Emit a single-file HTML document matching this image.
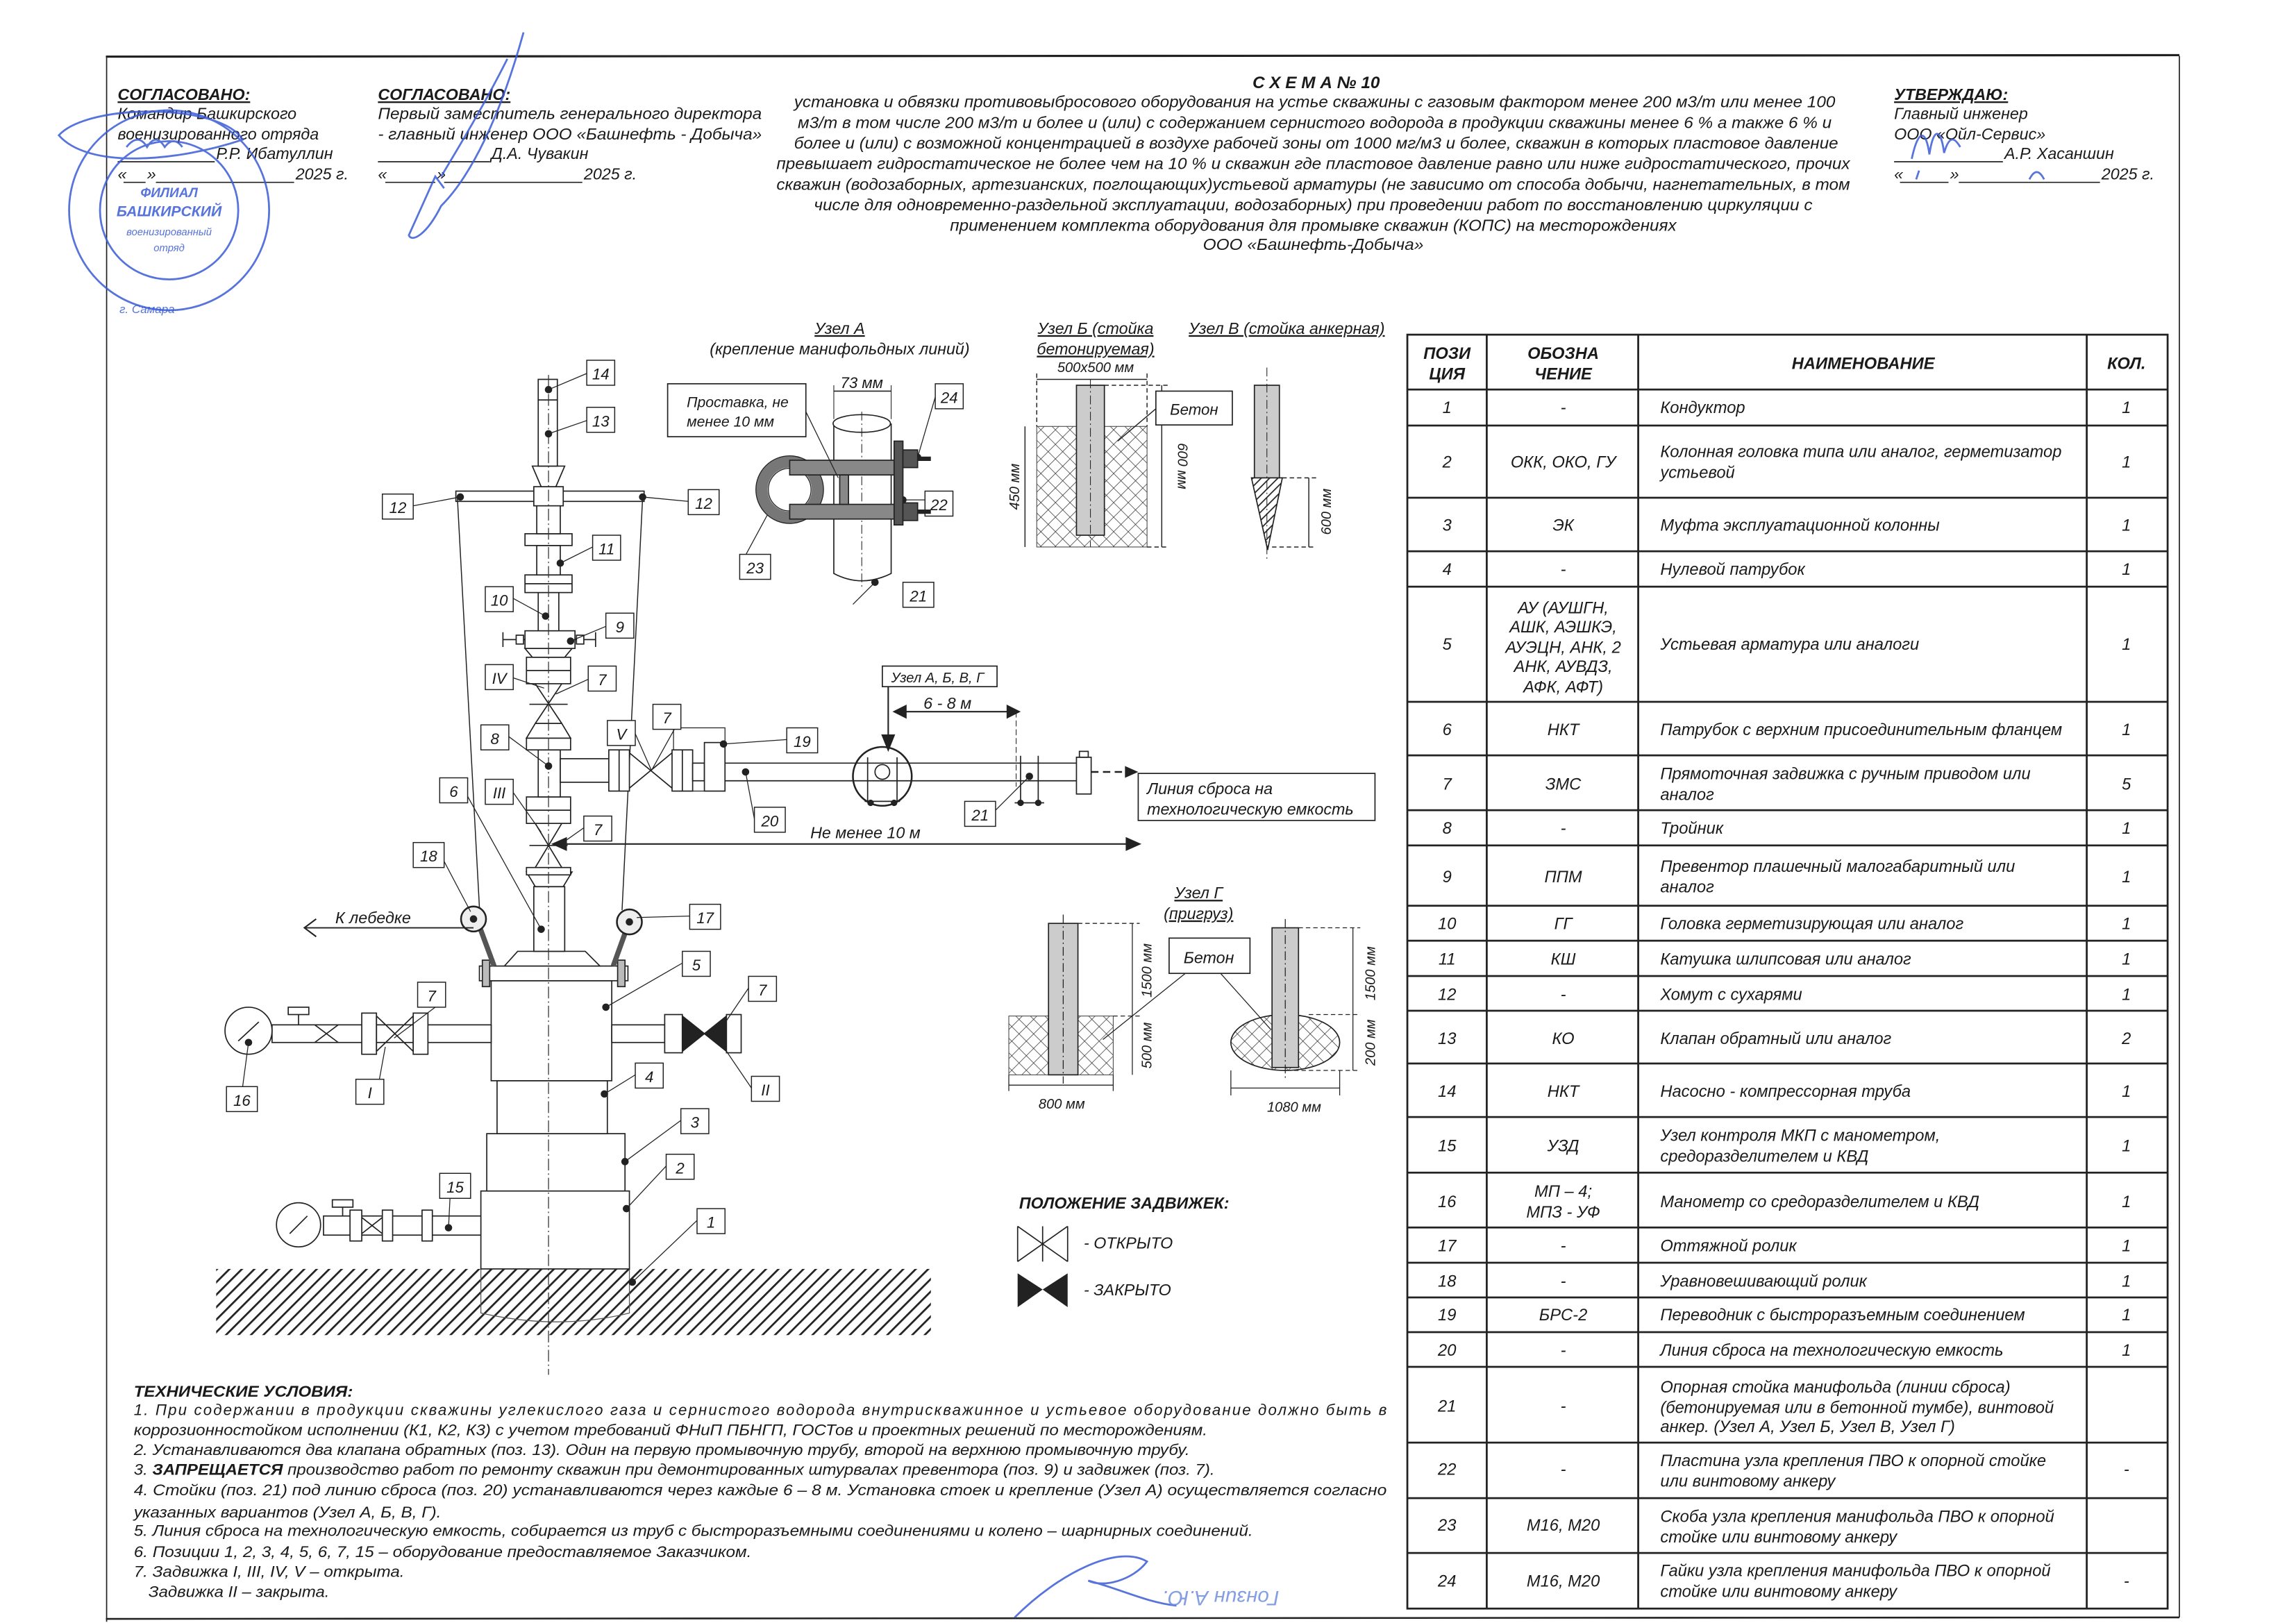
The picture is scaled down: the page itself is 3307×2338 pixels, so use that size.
<!DOCTYPE html>
<html><head><meta charset="utf-8"><style>
html,body{margin:0;padding:0;background:#fff}
svg{display:block}
text{font-family:"Liberation Sans","DejaVu Sans",sans-serif;font-style:italic;fill:#1a1a1a}
.b{font-weight:bold}
</style></head><body>
<svg width="3307" height="2338" viewBox="0 0 1561.3 1103.8" xmlns="http://www.w3.org/2000/svg">
<defs>
<pattern id="gh" width="6" height="6" patternUnits="userSpaceOnUse" patternTransform="rotate(45)"><rect width="6" height="6" fill="#fff"/><line x1="0" y1="0" x2="0" y2="6" stroke="#222" stroke-width="2.6"/></pattern>
<pattern id="xh" width="7" height="7" patternUnits="userSpaceOnUse" patternTransform="rotate(45)"><rect width="7" height="7" fill="#fff"/><line x1="0" y1="0" x2="0" y2="7" stroke="#333" stroke-width="0.7"/><line x1="0" y1="0" x2="7" y2="0" stroke="#333" stroke-width="0.7"/></pattern>
<pattern id="sh" width="4" height="4" patternUnits="userSpaceOnUse" patternTransform="rotate(45)"><rect width="4" height="4" fill="#fff"/><line x1="0" y1="0" x2="0" y2="4" stroke="#222" stroke-width="1.6"/></pattern>
</defs>
<rect width="1561.3" height="1103.8" fill="#fff"/>
<!-- frame -->
<g stroke="#222" fill="none">
<line x1="72" y1="38.5" x2="1482" y2="37.5" stroke-width="1.5"/>
<line x1="72.5" y1="38" x2="72.5" y2="1103" stroke-width="0.8"/>
<line x1="1482" y1="38" x2="1482" y2="1100" stroke-width="0.8"/>
<line x1="72" y1="1101" x2="1482" y2="1100" stroke-width="1.2"/>
</g>

<!-- header left -->
<g font-size="11">
<text x="80" y="68" class="b" text-decoration="underline">СОГЛАСОВАНО:</text>
<text x="80" y="81">Командир  Башкирского</text>
<text x="80" y="95">военизированного отряда</text>
<text x="147" y="108">Р.Р. Ибатуллин</text>
<text x="80" y="122">«</text><text x="100" y="122">»</text><text x="201" y="122">2025 г.</text>
<text x="257" y="68" class="b" text-decoration="underline">СОГЛАСОВАНО:</text>
<text x="257" y="81" textLength="261" lengthAdjust="spacingAndGlyphs">Первый заместитель генерального директора</text>
<text x="257" y="95" textLength="261" lengthAdjust="spacingAndGlyphs">- главный инженер ООО «Башнефть - Добыча»</text>
<text x="334" y="108">Д.А. Чувакин</text>
<text x="257" y="122">«</text><text x="297" y="122">»</text><text x="397" y="122">2025 г.</text>
<text x="1288" y="68" class="b" text-decoration="underline">УТВЕРЖДАЮ:</text>
<text x="1288" y="81">Главный инженер</text>
<text x="1288" y="95">ООО «Ойл-Сервис»</text>
<text x="1363" y="108">А.Р. Хасаншин</text>
<text x="1288" y="122">«</text><text x="1326" y="122">»</text><text x="1429" y="122">2025 г.</text>
</g>
<g stroke="#222" stroke-width="0.8">
<line x1="80" y1="110" x2="146" y2="110"/><line x1="84" y1="124" x2="99" y2="124"/><line x1="106" y1="124" x2="200" y2="124"/>
<line x1="257" y1="110" x2="333" y2="110"/><line x1="262" y1="124" x2="296" y2="124"/><line x1="302" y1="124" x2="396" y2="124"/>
<line x1="1288" y1="110" x2="1362" y2="110"/><line x1="1292" y1="124" x2="1325" y2="124"/><line x1="1332" y1="124" x2="1428" y2="124"/>
</g>
<!-- title -->
<g font-size="11" text-anchor="middle">
<text x="895" y="60" class="b" font-size="11.5">С Х Е М А  № 10</text>
<text x="894" y="73" textLength="708" lengthAdjust="spacingAndGlyphs">установка и обвязки противовыбросового оборудования на устье скважины с газовым фактором менее 200 м3/т или менее 100</text>
<text x="894" y="87" textLength="703" lengthAdjust="spacingAndGlyphs">м3/т в том числе 200 м3/т и более и (или) с содержанием сернистого водорода в продукции скважины менее 6 % а также 6 % и</text>
<text x="895" y="101" textLength="710" lengthAdjust="spacingAndGlyphs">более и (или) с возможной концентрацией в воздухе рабочей зоны от 1000 мг/м3 и более, скважин в которых пластовое давление</text>
<text x="893" y="115" textLength="730" lengthAdjust="spacingAndGlyphs">превышает гидростатическое не более чем на 10 % и скважин где пластовое давление равно или ниже гидростатического, прочих</text>
<text x="893" y="129" textLength="730" lengthAdjust="spacingAndGlyphs">скважин (водозаборных, артезианских, поглощающих)устьевой арматуры (не зависимо от способа добычи, нагнетательных, в том</text>
<text x="893" y="143" textLength="679" lengthAdjust="spacingAndGlyphs">числе для одновременно-раздельной эксплуатации, водозаборных) при проведении  работ по восстановлению циркуляции с</text>
<text x="893" y="157" textLength="494" lengthAdjust="spacingAndGlyphs">применением комплекта оборудования для промывке скважин (КОПС) на месторождениях</text>
<text x="893" y="170" textLength="150" lengthAdjust="spacingAndGlyphs">ООО «Башнефть-Добыча»</text>
</g>

<!-- stamp & signatures -->
<g fill="none" stroke="#3a5bd6" stroke-width="1.3" opacity="0.85">
<circle cx="115" cy="143" r="68"/><circle cx="115" cy="143" r="47"/>
<path d="M40 92 C 60 70, 150 70, 165 95 C 120 110, 60 115, 40 92 Z"/>
<path d="M86 100 q 8 -10 14 0 q 6 -10 12 0 q 6 -8 12 0"/>
<path d="M356 22 C 340 80, 320 120, 300 140 C 290 160, 280 165, 278 160 L 296 120 L 302 128"/>
<path d="M300 120 C 312 100, 330 70, 345 40"/>
<path d="M1300 108 C 1305 85, 1310 90, 1312 105 C 1315 85, 1320 88, 1322 104 C 1326 90, 1330 95, 1333 100"/>
<path d="M1303 122 l 2 -6 M1380 122 q 5 -10 10 0"/>
<path d="M690 1100 C 720 1070, 760 1050, 780 1062 C 770 1075, 750 1080, 740 1075 C 760 1080, 780 1090, 800 1092"/>
</g>
<g fill="#3a5bd6" opacity="0.85" font-size="9" text-anchor="middle">
<text x="115" y="134" style="fill:#3a5bd6" class="b">ФИЛИАЛ</text>
<text x="115" y="147" style="fill:#3a5bd6" class="b" font-size="10">БАШКИРСКИЙ</text>
<text x="115" y="160" style="fill:#3a5bd6" font-size="7">военизированный</text>
<text x="115" y="171" style="fill:#3a5bd6" font-size="7">отряд</text>
<text x="100" y="213" style="fill:#3a5bd6" font-size="8">г. Самара</text>
<text x="830" y="1092" style="fill:#6f8ee0" font-size="14" transform="rotate(180 830 1087)">Гонзин А.Ю.</text>
</g>

<!-- TABLE -->
<g stroke="#222" stroke-width="1.3" fill="none">
<rect x="957" y="227.6" width="517" height="866.4"/>
<line x1="1011" y1="227.6" x2="1011" y2="1094"/>
<line x1="1114" y1="227.6" x2="1114" y2="1094"/>
<line x1="1419" y1="227.6" x2="1419" y2="1094"/>
<path d="M957 264.9H1474M957 289.4H1474M957 338.5H1474M957 374.9H1474M957 399H1474M957 477.3H1474M957 513.7H1474M957 551H1474M957 575H1474M957 616H1474M957 639.8H1474M957 663.8H1474M957 687.4H1474M957 723.3H1474M957 759.7H1474M957 797.5H1474M957 834.8H1474M957 858.8H1474M957 882.4H1474M957 906H1474M957 929.6H1474M957 981.1H1474M957 1018.9H1474M957 1056.2H1474"/>
</g>
<g font-size="11.2">
<g class="b" text-anchor="middle">
<text x="984" y="244">ПОЗИ</text><text x="984" y="258">ЦИЯ</text>
<text x="1063" y="244">ОБОЗНА</text><text x="1063" y="258">ЧЕНИЕ</text>
<text x="1267" y="251">НАИМЕНОВАНИЕ</text>
<text x="1446" y="251">КОЛ.</text>
</g>
<g text-anchor="middle">
<text x="984" y="281">1</text><text x="1063" y="281">-</text><text x="1446" y="281">1</text>
<text x="984" y="318">2</text><text x="1063" y="318">ОКК, ОКО, ГУ</text><text x="1446" y="318">1</text>
<text x="984" y="361">3</text><text x="1063" y="361">ЭК</text><text x="1446" y="361">1</text>
<text x="984" y="391">4</text><text x="1063" y="391">-</text><text x="1446" y="391">1</text>
<text x="984" y="442">5</text><text x="1063" y="417">АУ (АУШГН,</text><text x="1063" y="430">АШК, АЭШКЭ,</text><text x="1063" y="444">АУЭЦН, АНК, 2</text><text x="1063" y="457">АНК, АУВДЗ,</text><text x="1063" y="471">АФК, АФТ)</text><text x="1446" y="442">1</text>
<text x="984" y="500">6</text><text x="1063" y="500">НКТ</text><text x="1446" y="500">1</text>
<text x="984" y="537">7</text><text x="1063" y="537">ЗМС</text><text x="1446" y="537">5</text>
<text x="984" y="567">8</text><text x="1063" y="567">-</text><text x="1446" y="567">1</text>
<text x="984" y="600">9</text><text x="1063" y="600">ППМ</text><text x="1446" y="600">1</text>
<text x="984" y="632">10</text><text x="1063" y="632">ГГ</text><text x="1446" y="632">1</text>
<text x="984" y="656">11</text><text x="1063" y="656">КШ</text><text x="1446" y="656">1</text>
<text x="984" y="680">12</text><text x="1063" y="680">-</text><text x="1446" y="680">1</text>
<text x="984" y="710">13</text><text x="1063" y="710">КО</text><text x="1446" y="710">2</text>
<text x="984" y="746">14</text><text x="1063" y="746">НКТ</text><text x="1446" y="746">1</text>
<text x="984" y="783">15</text><text x="1063" y="783">УЗД</text><text x="1446" y="783">1</text>
<text x="984" y="821">16</text><text x="1063" y="814">МП – 4;</text><text x="1063" y="828">МПЗ - УФ</text><text x="1446" y="821">1</text>
<text x="984" y="851">17</text><text x="1063" y="851">-</text><text x="1446" y="851">1</text>
<text x="984" y="875">18</text><text x="1063" y="875">-</text><text x="1446" y="875">1</text>
<text x="984" y="898">19</text><text x="1063" y="898">БРС-2</text><text x="1446" y="898">1</text>
<text x="984" y="922">20</text><text x="1063" y="922">-</text><text x="1446" y="922">1</text>
<text x="984" y="960">21</text><text x="1063" y="960">-</text>
<text x="984" y="1003">22</text><text x="1063" y="1003">-</text><text x="1446" y="1003">-</text>
<text x="984" y="1041">23</text><text x="1063" y="1041">М16, М20</text>
<text x="984" y="1079">24</text><text x="1063" y="1079">М16, М20</text><text x="1446" y="1079">-</text>
</g>
<g>
<text x="1129" y="281">Кондуктор</text>
<text x="1129" y="311">Колонная головка типа или аналог, герметизатор</text><text x="1129" y="325">устьевой</text>
<text x="1129" y="361">Муфта эксплуатационной колонны</text>
<text x="1129" y="391">Нулевой патрубок</text>
<text x="1129" y="442">Устьевая арматура или аналоги</text>
<text x="1129" y="500">Патрубок с верхним присоединительным фланцем</text>
<text x="1129" y="530">Прямоточная задвижка с ручным приводом или</text><text x="1129" y="544">аналог</text>
<text x="1129" y="567">Тройник</text>
<text x="1129" y="593">Превентор плашечный малогабаритный или</text><text x="1129" y="607">аналог</text>
<text x="1129" y="632">Головка герметизирующая или аналог</text>
<text x="1129" y="656">Катушка шлипсовая или аналог</text>
<text x="1129" y="680">Хомут с сухарями</text>
<text x="1129" y="710">Клапан обратный или аналог</text>
<text x="1129" y="746">Насосно - компрессорная труба</text>
<text x="1129" y="776">Узел контроля МКП с манометром,</text><text x="1129" y="790">средоразделителем и КВД</text>
<text x="1129" y="821">Манометр со средоразделителем и КВД</text>
<text x="1129" y="851">Оттяжной ролик</text>
<text x="1129" y="875">Уравновешивающий ролик</text>
<text x="1129" y="898">Переводник с быстроразъемным соединением</text>
<text x="1129" y="922">Линия сброса на технологическую емкость</text>
<text x="1129" y="947">Опорная стойка манифольда (линии сброса)</text><text x="1129" y="961">(бетонируемая или в бетонной тумбе), винтовой</text><text x="1129" y="974">анкер. (Узел А, Узел Б, Узел В, Узел Г)</text>
<text x="1129" y="997">Пластина узла крепления ПВО к опорной стойке</text><text x="1129" y="1011">или винтовому анкеру</text>
<text x="1129" y="1035">Скоба узла крепления манифольда ПВО к опорной</text><text x="1129" y="1049">стойке или винтовому анкеру</text>
<text x="1129" y="1072">Гайки узла крепления манифольда ПВО к опорной</text><text x="1129" y="1086">стойке или винтовому анкеру</text>
</g>
</g>

<!-- TECH CONDITIONS -->
<g font-size="10.5">
<text x="91" y="950" class="b" textLength="149" lengthAdjust="spacingAndGlyphs">ТЕХНИЧЕСКИЕ УСЛОВИЯ:</text>
<text x="91" y="962.5" textLength="852" lengthAdjust="spacing">1. При  содержании  в  продукции  скважины  углекислого  газа  и  сернистого  водорода  внутрискважинное  и  устьевое  оборудование  должно  быть  в</text>
<text x="91" y="976" textLength="730" lengthAdjust="spacingAndGlyphs">коррозионностойком исполнении (К1, К2, К3)  с учетом требований ФНиП ПБНГП, ГОСТов и проектных решений по месторождениям.</text>
<text x="91" y="989.5" textLength="718" lengthAdjust="spacingAndGlyphs">2. Устанавливаются два клапана обратных (поз. 13). Один на первую промывочную трубу, второй на верхнюю промывочную трубу.</text>
<text x="91" y="1003" textLength="735" lengthAdjust="spacingAndGlyphs">3. <tspan class="b">ЗАПРЕЩАЕТСЯ</tspan> производство работ по ремонту скважин при демонтированных штурвалах превентора (поз. 9) и задвижек (поз. 7).</text>
<text x="91" y="1017" textLength="852" lengthAdjust="spacingAndGlyphs">4. Стойки (поз. 21) под линию сброса (поз. 20) устанавливаются через каждые 6 – 8 м. Установка стоек и крепление (Узел А) осуществляется согласно</text>
<text x="91" y="1032" textLength="209" lengthAdjust="spacingAndGlyphs">указанных вариантов (Узел А, Б, В, Г).</text>
<text x="91" y="1044.6" textLength="761" lengthAdjust="spacingAndGlyphs">5. Линия сброса на технологическую емкость, собирается из труб с быстроразъемными соединениями и  колено – шарнирных соединений.</text>
<text x="91" y="1059" textLength="420" lengthAdjust="spacingAndGlyphs">6. Позиции 1, 2, 3, 4, 5, 6, 7, 15 – оборудование предоставляемое Заказчиком.</text>
<text x="91" y="1072.5" textLength="184" lengthAdjust="spacingAndGlyphs">7. Задвижка I, III, IV, V – открыта.</text>
<text x="101" y="1086" textLength="123" lengthAdjust="spacingAndGlyphs">Задвижка II – закрыта.</text>
</g>

<!-- GROUND -->
<rect x="147" y="863" width="486" height="45" fill="url(#gh)"/>
<path d="M327 863 V893 Q380 905 428 893 V863" fill="none" stroke="#555" stroke-width="0.6"/>

<!-- WELLHEAD -->
<g stroke="#222" stroke-width="0.8" fill="#fff">
<rect x="327" y="810" width="101" height="53"/>
<rect x="331" y="771" width="94" height="39"/>
<rect x="338" y="735" width="75" height="36"/>
<rect x="334" y="667" width="82" height="68"/>
<rect x="326" y="657" width="101" height="10"/>
<rect x="328" y="653" width="5" height="18" fill="#bbb"/><rect x="420" y="653" width="5" height="18" fill="#bbb"/>
<polygon points="343,657 408,657 398,647 352,647"/>
<rect x="363" y="603" width="21" height="44"/>
<polygon points="364,603 383,603 389,593 358,593"/>
<rect x="358" y="590" width="30" height="5"/>
<path d="M364 560 L382 590 M382 560 L364 590 M360 575 H386" fill="none"/>
<rect x="358" y="542" width="30" height="18"/><line x1="358" y1="551" x2="388" y2="551"/>
<rect x="366" y="510" width="15" height="32"/>
<rect x="381" y="516" width="34" height="16"/>
<rect x="358" y="502" width="30" height="8"/>
<polygon points="364,492 382,492 388,502 358,502"/>
<path d="M364 465 L382 492 M382 465 L364 492 M360 479 H386" fill="none"/>
<rect x="358" y="447" width="30" height="18"/><line x1="358" y1="456" x2="388" y2="456"/>
<polygon points="357,441 389,441 384,447 362,447"/>
<rect x="357" y="429" width="34" height="12"/>
<path d="M342 435 H357 M342 430 V440 M391 435 H405 M405 430 V440" fill="none"/>
<rect x="351" y="432" width="5" height="6"/><rect x="392" y="432" width="5" height="6"/>
<rect x="366" y="403" width="14" height="26"/>
<rect x="357" y="391" width="32" height="12"/><line x1="357" y1="397" x2="389" y2="397"/>
<rect x="365" y="371" width="16" height="20"/>
<rect x="357" y="363" width="32" height="8"/>
<rect x="365" y="341" width="16" height="22"/>
<rect x="310" y="334" width="128" height="7"/>
<rect x="363" y="331" width="20" height="13"/>
<polygon points="362,317 384,317 378,331 368,331"/>
<rect x="366" y="272" width="13" height="45"/>
<rect x="366" y="258" width="13" height="14"/>
</g>
<line x1="373" y1="255" x2="373" y2="935" stroke="#333" stroke-width="0.6" stroke-dasharray="8 2 1 2"/>
<!-- cables and rollers -->
<g stroke="#222" fill="none" stroke-width="0.7">
<line x1="311" y1="338" x2="326" y2="617"/><line x1="437" y1="338" x2="423" y2="619"/>
</g>
<g stroke="#222">
<line x1="326" y1="630" x2="336" y2="657" stroke-width="3.5" stroke="#555"/>
<line x1="426" y1="632" x2="417" y2="657" stroke-width="3.5" stroke="#555"/>
<circle cx="322" cy="625" r="8.5" fill="#eee" stroke-width="1.2"/>
<circle cx="428" cy="627" r="8.5" fill="#eee" stroke-width="1.2"/>
<line x1="322" y1="631" x2="208" y2="631" stroke-width="0.9"/>
<path d="M215 625 L207 631 L215 637" fill="none" stroke-width="1"/>
</g>
<text x="228" y="628" font-size="11">К лебедке</text>

<!-- left side valves -->
<g stroke="#222" stroke-width="0.8" fill="#fff">
<rect x="185" y="697" width="149" height="12"/>
<rect x="246" y="689" width="10" height="28"/>
<path d="M256 691 L281 715 M281 691 L256 715 M256 691 V715 M281 691 V715" fill="none"/>
<rect x="281" y="689" width="10" height="28"/>
<path d="M214 697 L230 709 M230 697 L214 709" fill="none"/>
<line x1="203" y1="697" x2="203" y2="690"/><rect x="196" y="685" width="14" height="5"/>
<circle cx="169" cy="701" r="16"/>
<line x1="162" y1="708" x2="176" y2="695"/>
<!-- right side -->
<rect x="416" y="697" width="36" height="12"/>
<rect x="452" y="690" width="12" height="26"/>
<polygon points="464,691 479,703 464,715" fill="#222"/><polygon points="494,691 479,703 494,715" fill="#222"/>
<rect x="494" y="690" width="10" height="26"/>
<!-- bottom gauge -->
<rect x="220" y="827" width="107" height="13"/>
<rect x="238" y="823" width="8" height="21"/>
<path d="M246 828 L260 839 M260 828 L246 839" fill="none"/>
<rect x="260" y="823" width="7" height="21"/>
<rect x="287" y="823" width="7" height="21"/>
<line x1="233" y1="827" x2="233" y2="821"/><rect x="226" y="816" width="14" height="5"/>
<circle cx="203" cy="833" r="15"/>
<line x1="197" y1="839" x2="209" y2="827"/>
</g>

<!-- branch line -->
<g stroke="#222" stroke-width="0.8" fill="#fff">
<rect x="414" y="510" width="14" height="28"/><line x1="421" y1="510" x2="421" y2="538"/>
<path d="M428 512 L457 536 M457 512 L428 536" fill="none"/>
<rect x="458" y="495" width="35" height="43" fill="none" stroke-width="0.6"/>
<rect x="457" y="510" width="14" height="28"/><line x1="464" y1="510" x2="464" y2="538"/>
<rect x="471" y="519" width="8" height="12"/>
<rect x="479" y="505" width="14" height="33"/>
<path d="M493 519 H738 M493 531 H738" fill="none"/>
<circle cx="600" cy="528" r="20" fill="none" stroke-width="1.2"/>
<path d="M590 515 V545 M610 515 V545 M588 545 H612" fill="none"/>
<circle cx="600" cy="525" r="5" fill="none"/>
<circle cx="592" cy="546" r="1.8" fill="#222"/><circle cx="608" cy="546" r="1.8" fill="#222"/>
<path d="M694 514 V546 M706 514 V546 M690 546 H710" fill="none"/>
<circle cx="694" cy="546" r="1.8" fill="#222"/><circle cx="706" cy="546" r="1.8" fill="#222"/>
<rect x="732" y="515" width="10" height="25"/><rect x="734" y="511" width="6" height="4"/>
</g>
<line x1="742" y1="525" x2="765" y2="525" stroke="#222" stroke-width="1.2" stroke-dasharray="5 3"/>
<polygon points="765,521 774,525 765,529" fill="#222"/>
<rect x="774" y="526" width="161" height="32" fill="#fff" stroke="#222" stroke-width="0.8"/>
<text x="780" y="540" font-size="11">Линия сброса на</text>
<text x="780" y="554" font-size="11">технологическую емкость</text>
<!-- dims -->
<g stroke="#222" stroke-width="1">
<line x1="376" y1="574" x2="772" y2="574"/>
<polygon points="376,574 385,570 385,578" fill="#222"/><polygon points="775,574 766,570 766,578" fill="#222"/>
<line x1="608" y1="484" x2="693" y2="484"/>
<polygon points="608,484 616,480 616,488" fill="#222"/><polygon points="693,484 685,480 685,488" fill="#222"/>
<line x1="691" y1="484" x2="691" y2="535" stroke-dasharray="4 2" stroke-width="0.5"/>
<line x1="604" y1="467" x2="604" y2="508"/>
<polygon points="600,500 604,510 608,500" fill="#222"/>
</g>
<text x="551" y="570" font-size="11">Не менее 10 м</text>
<text x="628" y="482" font-size="11">6 - 8 м</text>
<rect x="600" y="453" width="78" height="14" fill="#fff" stroke="#222" stroke-width="0.8"/>
<text x="606" y="464" font-size="9.5">Узел А, Б, В, Г</text>

<!-- label boxes -->
<g stroke="#222" stroke-width="0.6" fill="none">
<path d="M399 254 L373 265 M399 286 L373 295 M281 344 L313 338 M468 341 L437 338 M403 372 L381 383 M349 407 L371 419 M412 426 L388 436 M349 461 L370 468 M400 462 L378 472 M346 501 L373 521 M432 499 L443 524 M463 488 L443 524 M535 503 L492 506 M316 538 L368 632 M349 539 L368 566 M397 563 L380 575 M513 557 L507 525 M675 553 L700 528 M300 582 L320 620 M469 623 L433 624 M464 655 L412 685 M296 685 L268 706 M509 672 L486 706 M258 734 L262 712 M511 740 L492 712 M165 739 L169 709 M432 731 L411 744 M463 762 L425 790 M306 815 L305 835 M453 793 L426 822 M474 830 L430 872 M580 411 L595 396 M503 385 L523 348 M636 270 L624 311 M629 340 L614 340"/>
</g>
<g fill="#222">
<circle cx="373" cy="265" r="2.5"/><circle cx="373" cy="295" r="2.5"/><circle cx="313" cy="338" r="2.5"/><circle cx="437" cy="338" r="2.5"/><circle cx="381" cy="383" r="2.5"/><circle cx="371" cy="419" r="2.5"/><circle cx="388" cy="436" r="2.5"/><circle cx="373" cy="521" r="2.5"/><circle cx="492" cy="506" r="2.5"/><circle cx="368" cy="632" r="2.5"/><circle cx="507" cy="525" r="2.5"/><circle cx="700" cy="528" r="2.5"/><circle cx="322" cy="625" r="2.5"/><circle cx="428" cy="627" r="2.5"/><circle cx="412" cy="685" r="2.5"/><circle cx="169" cy="709" r="2.5"/><circle cx="411" cy="744" r="2.5"/><circle cx="425" cy="790" r="2.5"/><circle cx="305" cy="835" r="2.5"/><circle cx="426" cy="822" r="2.5"/><circle cx="430" cy="872" r="2.5"/><circle cx="523" cy="348" r="2.5"/><circle cx="595" cy="396" r="2.5"/><circle cx="624" cy="311" r="2.5"/><circle cx="614" cy="340" r="2.5"/><circle cx="570" cy="325" r="2.5"/><circle cx="760" cy="300" r="2.5"/><circle cx="750" cy="707" r="2.5"/><circle cx="864" cy="700" r="2.5"/>
</g>
<g font-size="10.5" text-anchor="middle">
<g fill="#fff" stroke="#222" stroke-width="0.7">
<rect x="399" y="245" width="19" height="17"/><rect x="399" y="277" width="19" height="17"/><rect x="260" y="336" width="21" height="17"/><rect x="468" y="333" width="21" height="17"/><rect x="403" y="364" width="19" height="17"/><rect x="330" y="399" width="19" height="17"/><rect x="412" y="417" width="19" height="17"/><rect x="330" y="452" width="19" height="17"/><rect x="400" y="453" width="19" height="17"/><rect x="327" y="493" width="19" height="17"/><rect x="413" y="490" width="19" height="17"/><rect x="444" y="479" width="19" height="17"/><rect x="535" y="495" width="21" height="17"/><rect x="299" y="529" width="19" height="17"/><rect x="330" y="530" width="19" height="17"/><rect x="397" y="555" width="19" height="17"/><rect x="513" y="549" width="21" height="17"/><rect x="656" y="545" width="21" height="17"/><rect x="281" y="573" width="21" height="17"/><rect x="469" y="615" width="21" height="17"/><rect x="464" y="647" width="19" height="17"/><rect x="284" y="668" width="19" height="17"/><rect x="509" y="664" width="19" height="17"/><rect x="242" y="734" width="19" height="17"/><rect x="511" y="732" width="19" height="17"/><rect x="154" y="739" width="21" height="17"/><rect x="432" y="723" width="19" height="17"/><rect x="463" y="754" width="19" height="17"/><rect x="299" y="798" width="21" height="17"/><rect x="453" y="785" width="19" height="17"/><rect x="474" y="822" width="19" height="17"/><rect x="636" y="261" width="19" height="17"/><rect x="629" y="334" width="19" height="17"/><rect x="503" y="377" width="21" height="17"/><rect x="614" y="396" width="21" height="17"/>
</g>
<text x="408.5" y="258">14</text><text x="408.5" y="290">13</text><text x="270.5" y="349">12</text><text x="478.5" y="346">12</text><text x="412.5" y="377">11</text><text x="339.5" y="412">10</text><text x="421.5" y="430">9</text><text x="339.5" y="465">IV</text><text x="409.5" y="466">7</text><text x="336.5" y="506">8</text><text x="422.5" y="503">V</text><text x="453.5" y="492">7</text><text x="545.5" y="508">19</text><text x="308.5" y="542">6</text><text x="339.5" y="543">III</text><text x="406.5" y="568">7</text><text x="523.5" y="562">20</text><text x="666.5" y="558">21</text><text x="291.5" y="586">18</text><text x="479.5" y="628">17</text><text x="473.5" y="660">5</text><text x="293.5" y="681">7</text><text x="518.5" y="677">7</text><text x="251.5" y="747">I</text><text x="520.5" y="745">II</text><text x="164.5" y="752">16</text><text x="441.5" y="736">4</text><text x="472.5" y="767">3</text><text x="309.5" y="811">15</text><text x="462.5" y="798">2</text><text x="483.5" y="835">1</text><text x="645.5" y="274">24</text><text x="638.5" y="347">22</text><text x="513.5" y="390">23</text><text x="624.5" y="409">21</text>
</g>

<!-- Узел А -->
<g font-size="11" text-anchor="middle">
<text x="571" y="227" text-decoration="underline">Узел А</text>
<text x="571" y="241">(крепление манифольдных линий)</text>
<text x="745" y="227" text-decoration="underline">Узел Б (стойка</text>
<text x="745" y="241" text-decoration="underline">бетонируемая)</text>
<text x="875" y="227" text-decoration="underline">Узел В (стойка анкерная)</text>
</g>
<g stroke="#222" stroke-width="0.8">
<path d="M567 288 V390 Q586 400 606 390 V288" fill="#fff"/>
<ellipse cx="586" cy="288" rx="19.5" ry="6" fill="#fff"/>
<line x1="586" y1="280" x2="586" y2="400" stroke-dasharray="6 2 1 2" stroke-width="0.5"/>
<circle cx="537" cy="333" r="19" fill="none" stroke="#777" stroke-width="8"/>
<circle cx="537" cy="333" r="14.5" fill="none" stroke="#222" stroke-width="0.6"/>
<circle cx="537" cy="333" r="23" fill="none" stroke="#222" stroke-width="0.6"/>
<rect x="537" y="313" width="75" height="10" fill="#888"/>
<rect x="537" y="343" width="75" height="10" fill="#888"/>
<rect x="571" y="323" width="6" height="20" fill="#888"/>
<rect x="608" y="300" width="6" height="57" fill="#555"/>
<rect x="614" y="306" width="10" height="12" fill="#555"/><rect x="614" y="342" width="10" height="12" fill="#555"/>
<line x1="624" y1="312" x2="633" y2="312" stroke-width="3"/><line x1="624" y1="348" x2="633" y2="348" stroke-width="3"/>
<line x1="567" y1="266" x2="606" y2="266"/>
<line x1="567" y1="262" x2="567" y2="285" stroke-width="0.5"/><line x1="606" y1="262" x2="606" y2="285" stroke-width="0.5"/>
<line x1="548" y1="280" x2="570" y2="325" stroke-width="0.6"/>
</g>
<text x="586" y="264" font-size="10.5" text-anchor="middle">73 мм</text>
<rect x="454" y="261" width="94" height="36" fill="#fff" stroke="#222" stroke-width="0.8"/>
<text x="467" y="277" font-size="10">Проставка, не</text>
<text x="467" y="290" font-size="10">менее 10 мм</text>

<!-- Узел Б -->
<rect x="705" y="290" width="75" height="82" fill="url(#xh)" stroke="#444" stroke-width="0.5"/>
<rect x="732" y="262" width="19" height="102" fill="#ccc" stroke="#222" stroke-width="0.8"/>
<line x1="741.5" y1="258" x2="741.5" y2="372" stroke="#222" stroke-width="0.5" stroke-dasharray="6 2 1 2"/>
<g stroke="#222" stroke-width="0.7">
<line x1="705" y1="258" x2="780" y2="258"/><line x1="705" y1="254" x2="705" y2="290" stroke-dasharray="3 2"/><line x1="780" y1="254" x2="780" y2="290" stroke-dasharray="3 2"/>
<line x1="697" y1="290" x2="697" y2="372"/><line x1="790" y1="262" x2="790" y2="372"/>
<line x1="751" y1="262" x2="795" y2="262" stroke-dasharray="3 2"/><line x1="780" y1="372" x2="795" y2="372" stroke-dasharray="3 2"/>
<line x1="786" y1="278" x2="760" y2="300"/>
</g>
<text x="745" y="253" font-size="9.5" text-anchor="middle">500х500 мм</text>
<text font-size="9.5" transform="translate(693 331) rotate(-90)" text-anchor="middle">450 мм</text>
<text font-size="9.5" transform="translate(801 317) rotate(90)" text-anchor="middle">600 мм</text>
<rect x="786" y="266" width="52" height="23" fill="#fff" stroke="#222" stroke-width="0.8"/>
<text x="812" y="282" font-size="10.5" text-anchor="middle">Бетон</text>
<!-- Узел В -->
<rect x="853" y="262" width="17" height="63" fill="#ccc" stroke="#222" stroke-width="0.8"/>
<polygon points="851,325 872,325 862,374" fill="url(#sh)" stroke="#222" stroke-width="0.8"/>
<line x1="861.5" y1="250" x2="861.5" y2="380" stroke="#222" stroke-width="0.5" stroke-dasharray="6 2 1 2"/>
<g stroke="#222" stroke-width="0.7"><line x1="890" y1="325" x2="890" y2="372"/><line x1="872" y1="325" x2="895" y2="325" stroke-dasharray="3 2"/><line x1="865" y1="372" x2="895" y2="372" stroke-dasharray="3 2"/></g>
<text font-size="9.5" transform="translate(905 348) rotate(-90)" text-anchor="middle">600 мм</text>

<!-- Узел Г -->
<text x="815" y="611" font-size="11" text-anchor="middle" text-decoration="underline">Узел Г</text>
<text x="815" y="625" font-size="11" text-anchor="middle" text-decoration="underline">(пригруз)</text>
<rect x="686" y="691" width="71" height="40" fill="url(#xh)" stroke="#444" stroke-width="0.5"/>
<rect x="713" y="628" width="20" height="103" fill="#ccc" stroke="#222" stroke-width="0.8"/>
<ellipse cx="874" cy="709" rx="37" ry="19" fill="url(#xh)" stroke="#222" stroke-width="0.8"/>
<rect x="865" y="631" width="18" height="95" fill="#ccc" stroke="#222" stroke-width="0.8"/>
<g stroke="#222" stroke-width="0.6" fill="none">
<line x1="723" y1="622" x2="723" y2="737" stroke-dasharray="6 2 1 2"/>
<line x1="874" y1="625" x2="874" y2="735" stroke-dasharray="6 2 1 2"/>
<line x1="770" y1="628" x2="770" y2="731"/><line x1="733" y1="628" x2="775" y2="628" stroke-dasharray="3 2"/><line x1="757" y1="691" x2="775" y2="691" stroke-dasharray="3 2"/>
<line x1="686" y1="738" x2="757" y2="738"/><line x1="686" y1="731" x2="686" y2="742"/><line x1="757" y1="731" x2="757" y2="742"/>
<line x1="920" y1="631" x2="920" y2="728"/><line x1="883" y1="631" x2="925" y2="631" stroke-dasharray="3 2"/><line x1="890" y1="690" x2="925" y2="690" stroke-dasharray="3 2"/><line x1="880" y1="728" x2="925" y2="728" stroke-dasharray="3 2"/>
<line x1="837" y1="740" x2="911" y2="740"/><line x1="837" y1="728" x2="837" y2="745"/><line x1="911" y1="728" x2="911" y2="745"/>
<line x1="806" y1="662" x2="750" y2="707"/><line x1="830" y1="662" x2="864" y2="700"/>
</g>
<text font-size="9.5" transform="translate(783 660) rotate(-90)" text-anchor="middle">1500 мм</text>
<text font-size="9.5" transform="translate(783 711) rotate(-90)" text-anchor="middle">500 мм</text>
<text font-size="9.5" transform="translate(935 662) rotate(-90)" text-anchor="middle">1500 мм</text>
<text font-size="9.5" transform="translate(935 709) rotate(-90)" text-anchor="middle">200 мм</text>
<text x="722" y="754" font-size="9.5" text-anchor="middle">800 мм</text>
<text x="880" y="756" font-size="9.5" text-anchor="middle">1080 мм</text>
<rect x="795" y="638" width="55" height="24" fill="#fff" stroke="#222" stroke-width="0.8"/>
<text x="822" y="655" font-size="11" text-anchor="middle">Бетон</text>

<!-- legend -->
<text x="693" y="822" font-size="11" class="b">ПОЛОЖЕНИЕ ЗАДВИЖЕК:</text>
<path d="M692 834 L726 858 M726 834 L692 858 M692 834 V858 M726 834 V858 M709 834 V858" fill="none" stroke="#222" stroke-width="0.8"/>
<text x="737" y="849" font-size="11">- ОТКРЫТО</text>
<polygon points="692,866 709,877 692,889" fill="#222"/><polygon points="726,866 709,877 726,889" fill="#222"/>
<text x="737" y="881" font-size="11">- ЗАКРЫТО</text>
</svg>
</body></html>
